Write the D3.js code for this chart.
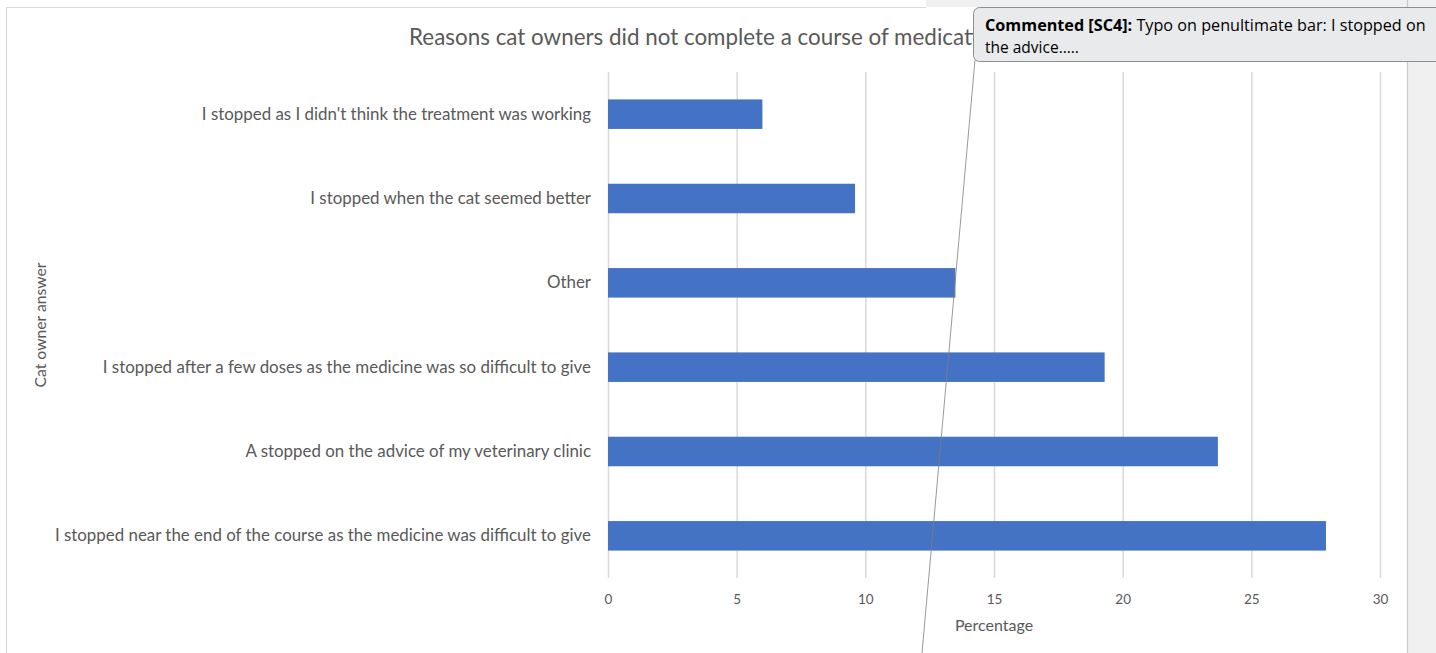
<!DOCTYPE html>
<html>
<head>
<meta charset="utf-8">
<script src="https://cdn.jsdelivr.net/npm/d3@7"></script>
<style>
  html, body { margin: 0; padding: 0; background: #ffffff; }
  svg { display: block; }
</style>
</head>
<body>
<svg id="chart" width="1436" height="653"></svg>
<script>
// ---- data ----
const categories = [
  "I stopped as I didn't think the treatment was working",
  "I stopped when the cat seemed better",
  "Other",
  "I stopped after a few doses as the medicine was so difficult to give",
  "A stopped on the advice of my veterinary clinic",
  "I stopped near the end of the course as the medicine was difficult to give"
];
const values = [6.0, 9.6, 13.5, 19.3, 23.7, 27.9];
const xTicks = [0, 5, 10, 15, 20, 25, 30];
const titleText = "Reasons cat owners did not complete a course of medication";
const xTitle = "Percentage";
const yTitle = "Cat owner answer";
const commentBold = "Commented [SC4]:";
const commentLines = [" Typo on penultimate bar: I stopped on", "the advice….."];

const svg = d3.select("#chart");
const W = 1436, H = 653;
const FONT = "Lato, 'Open Sans', sans-serif";

// frame / background
svg.append("rect").attr("x", 926).attr("y", 0).attr("width", W - 926).attr("height", 7).attr("fill", "#f0f0f0");
svg.append("rect").attr("x", 1407).attr("y", 0).attr("width", W - 1407).attr("height", H).attr("fill", "#f0f0f0");
svg.append("line").attr("x1", 6.5).attr("x2", 6.5).attr("y1", 7).attr("y2", H).attr("stroke", "#d9d9d9").attr("stroke-width", 1.2);
svg.append("line").attr("x1", 6).attr("x2", 926).attr("y1", 7.5).attr("y2", 7.5).attr("stroke", "#d9d9d9").attr("stroke-width", 1.2);
svg.append("line").attr("x1", 1407.5).attr("x2", 1407.5).attr("y1", 0).attr("y2", H).attr("stroke", "#c8c8c8").attr("stroke-width", 1.2);

const plot = { left: 608, right: 1380, top: 72, bottom: 578 };

const x = d3.scaleLinear().domain([0, 30]).range([plot.left, plot.right]);
const y = d3.scaleBand().domain(categories).range([plot.top, plot.bottom])
  .paddingInner(0.65).paddingOuter(0.325);

// gridlines
const grid = svg.append("g").attr("transform", `translate(0,${plot.bottom})`)
  .call(d3.axisBottom(x).tickValues(xTicks).tickSize(-(plot.bottom - plot.top)).tickFormat(""));
grid.select(".domain").remove();
grid.selectAll(".tick line").attr("stroke", "#d9d9d9").attr("stroke-width", 1.5);

// bars
svg.append("g").selectAll("rect").data(categories).join("rect")
  .attr("x", x(0))
  .attr("y", d => y(d))
  .attr("width", (d, i) => x(values[i]) - x(0))
  .attr("height", y.bandwidth())
  .attr("fill", "#4472c4");

// x axis labels
const xa = svg.append("g").attr("transform", `translate(0,${plot.bottom})`)
  .call(d3.axisBottom(x).tickValues(xTicks).tickSize(0).tickPadding(16));
xa.select(".domain").remove();
xa.selectAll("text").attr("fill", "#595959").attr("font-family", FONT).attr("font-size", 13.5);

// y axis labels
const ya = svg.append("g").attr("transform", `translate(${plot.left},0)`)
  .call(d3.axisLeft(y).tickSize(0).tickPadding(17));
ya.select(".domain").remove();
ya.selectAll("text").attr("fill", "#595959").attr("font-family", FONT).attr("font-size", 16.9);

// axis titles
svg.append("text").attr("x", x(15)).attr("y", 631).attr("text-anchor", "middle")
  .attr("fill", "#595959").attr("font-family", FONT).attr("font-size", 16).text(xTitle);
svg.append("text").attr("transform", `translate(46,${(plot.top + plot.bottom) / 2}) rotate(-90)`)
  .attr("text-anchor", "middle").attr("fill", "#595959")
  .attr("font-family", FONT).attr("font-size", 15.7).text(yTitle);

// title (partly hidden behind the comment box, as in the reference)
svg.append("clipPath").attr("id", "titleClip")
  .append("rect").attr("x", 0).attr("y", 0).attr("width", 973).attr("height", 70);
svg.append("text").attr("x", 706).attr("y", 45).attr("text-anchor", "middle")
  .attr("clip-path", "url(#titleClip)")
  .attr("fill", "#595959").attr("font-family", FONT).attr("font-size", 22.4).text(titleText);

// comment connector line
svg.append("line").attr("x1", 975).attr("y1", 60).attr("x2", 922).attr("y2", H)
  .attr("stroke", "#7f7f7f").attr("stroke-width", 0.8);

// comment box
svg.append("rect").attr("x", 973.5).attr("y", 7.5).attr("width", 480).attr("height", 54).attr("rx", 6)
  .attr("fill", "#e9eaec").attr("stroke", "#8e8e8e").attr("stroke-width", 1);
const ct = svg.append("text").attr("x", 985).attr("y", 31)
  .attr("font-family", "'Open Sans', 'Noto Sans', sans-serif").attr("font-size", 16.2).attr("fill", "#000");
ct.append("tspan").attr("font-weight", "bold").text(commentBold);
ct.append("tspan").text(commentLines[0]);
svg.append("text").attr("x", 985).attr("y", 53)
  .attr("font-family", "'Open Sans', 'Noto Sans', sans-serif").attr("font-size", 15.5).attr("fill", "#000")
  .text(commentLines[1]);
</script>
</body>
</html>
